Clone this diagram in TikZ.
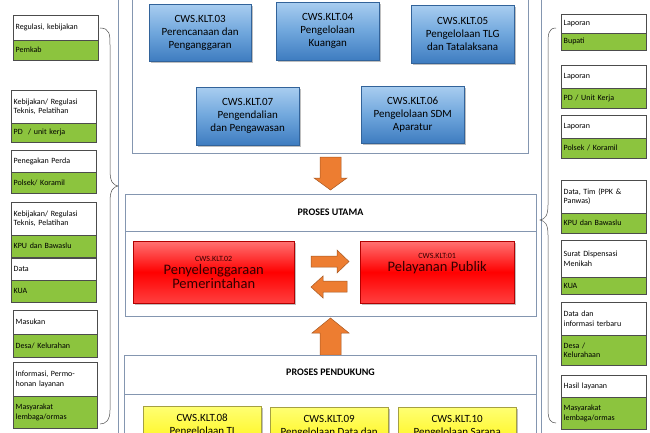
\documentclass[tikz,border=0pt]{standalone}
\usepackage{fontspec}
\setmainfont{Carlito}
\usetikzlibrary{shadows}
\definecolor{grn}{HTML}{8CC43E}
\definecolor{frm}{HTML}{8496B0}
\definecolor{org}{HTML}{ED7D31}
\definecolor{bl1}{HTML}{A9CDF0}
\definecolor{bl2}{HTML}{6FA6DC}
\definecolor{bl3}{HTML}{3E7CC0}
\tikzset{
  sidew/.style={draw=black!70,fill=white,anchor=north west,inner sep=2.5pt,align=left,font=\fontsize{8}{9.5}\selectfont},
  sideg/.style={draw=black!70,fill=grn,anchor=north west,inner sep=2.5pt,align=left,font=\fontsize{8}{9.5}\selectfont},
  frame/.style={draw=frm,line width=0.8pt},
  bluebox/.style={draw=bl3!80!black,top color=bl1,bottom color=bl3,middle color=bl2,drop shadow={shadow xshift=1.5pt,shadow yshift=-1.5pt,opacity=0.5},anchor=north west,align=center,font=\fontsize{11}{13}\selectfont,inner sep=0pt},
  redbox/.style={draw=red!70!black,top color=red!55,bottom color=red!75,middle color=red,drop shadow={shadow xshift=1.5pt,shadow yshift=-1.5pt,opacity=0.5},anchor=north west,align=center,inner sep=0pt,text=black!80!red},
  yelbox/.style={draw=yellow!60!black,top color=yellow!55,bottom color=yellow!90!orange,drop shadow={shadow xshift=1.5pt,shadow yshift=-1.5pt,opacity=0.5},anchor=north west,align=center,font=\fontsize{11}{13}\selectfont,inner sep=0pt},
  oarrow/.style={draw=org!70!black,fill=org,line width=0.5pt},
  brace/.style={draw=black!70,line width=0.5pt}
}
\newcommand\sidepair[8]{%
  \node[sidew,minimum width=#2pt,minimum height=#5pt,text width=#2pt-5pt] (#1w) at (#3,#4) {#7};
  \node[sideg,minimum width=#2pt,minimum height=#6pt,text width=#2pt-5pt] (#1g) at (#3,#4+#5) {#8};
}
\begin{document}
\begin{tikzpicture}[x=1pt,y=-1pt]
\useasboundingbox (0,0) rectangle (650,433);
\clip (0,0) rectangle (650,433);
% outer frame lines
\draw[frame] (118,-5) -- (118,440);
\draw[frame] (541,-5) -- (541,440);
% top box
\draw[frame] (132,-5) -- (132,153) -- (528,153) -- (528,-5);
\node[bluebox,minimum width=102pt,minimum height=57pt] (k03) at (149,4) {CWS.KLT.03\\Perencanaan dan\\Penganggaran};
\node[bluebox,minimum width=103pt,minimum height=58pt] (k04) at (276,2) {CWS.KLT.04\\Pengelolaan\\Kuangan};
\node[bluebox,minimum width=103pt,minimum height=58pt] (k05) at (411,5) {CWS.KLT.05\\Pengelolaan TLG\\dan Tatalaksana};
\node[bluebox,minimum width=103pt,minimum height=58pt] (k07) at (196,87) {CWS.KLT.07\\Pengendalian\\dan Pengawasan};
\node[bluebox,minimum width=103pt,minimum height=57pt] (k06) at (361,86) {CWS.KLT.06\\Pengelolaan SDM\\Aparatur};
% down arrow
\draw[oarrow] (320,157) -- (341,157) -- (341,178) -- (347,178) -- (330.5,190) -- (314,178) -- (320,178) -- cycle;
% proses utama
\draw[frame,fill=white] (125,194) rectangle (536,316);
\draw[frame] (125,231) -- (536,231);
\node[font=\bfseries\fontsize{10}{12}\selectfont] (pu) at (330.5,212) {PROSES UTAMA};
\node[redbox,minimum width=161pt,minimum height=62pt] (k02) at (133,241) {\fontsize{8}{9}\selectfont CWS.KLT.02\\[1pt]\fontsize{14.5}{17}\selectfont Penyelenggaraan\\\fontsize{14.5}{17}\selectfont Pemerintahan};
\node[redbox,minimum width=154pt,minimum height=62pt] (k01) at (360,241) {\fontsize{8}{9}\selectfont CWS.KLT:01\\[1pt]\fontsize{14.5}{17}\selectfont Pelayanan Publik\\\fontsize{14.5}{17}\selectfont\strut\phantom{P}};
\draw[oarrow] (311,256) -- (337,256) -- (337,250) -- (349,261.5) -- (337,273) -- (337,267) -- (311,267) -- cycle;
\draw[oarrow] (347,281) -- (323,281) -- (323,276) -- (311,287) -- (323,298) -- (323,292) -- (347,292) -- cycle;
% up arrow
\draw[oarrow] (320,355) -- (341,355) -- (341,333) -- (349,333) -- (330.5,318) -- (312,333) -- (320,333) -- cycle;
% proses pendukung
\draw[frame,fill=white] (124,355) rectangle (536,440);
\draw[frame] (124,394) -- (536,394);
\node[font=\bfseries\fontsize{10}{12}\selectfont] (pp) at (330.5,372) {PROSES PENDUKUNG};
\node[yelbox,minimum width=118pt,minimum height=50pt] (k08) at (143,406) {CWS.KLT.08\\Pengelolaan TI\\\phantom{x}};
\node[yelbox,minimum width=118pt,minimum height=50pt] (k09) at (270,407) {CWS.KLT.09\\Pengelolaan Data dan\\\phantom{x}};
\node[yelbox,minimum width=118pt,minimum height=50pt] (k10) at (398,407) {CWS.KLT.10\\Pengelolaan Sarana\\\phantom{x}};
% left side
\sidepair{l1}{85}{13}{15}{25}{20}{Regulasi, kebijakan}{Pemkab}
\sidepair{l2}{85}{11}{90}{33}{19}{Kebijakan/ Regulasi\\Teknis, Pelatihan}{PD\ \ / unit kerja}
\sidepair{l3}{85}{11}{150}{22}{21}{Penegakan Perda}{Polsek/ Koramil}
\sidepair{l4}{85}{11}{202}{33}{22}{Kebijakan/ Regulasi\\Teknis, Pelatihan}{KPU dan Bawaslu}
\sidepair{l5}{85}{11}{258}{22}{22}{Data}{KUA}
\sidepair{l6}{84}{13}{310}{24}{23}{Masukan}{Desa/ Kelurahan}
\sidepair{l7}{84}{13}{362}{34}{32}{Informasi, Permo-\\honan layanan}{Masyarakat\\lembaga/ormas}
% right side
\sidepair{r1}{85}{561}{14}{19}{17}{Laporan}{Bupati}
\sidepair{r2}{85}{561}{65}{23}{20}{Laporan}{PD / Unit Kerja}
\sidepair{r3}{85}{561}{115}{23}{20}{Laporan}{Polsek / Koramil}
\sidepair{r4}{85}{561}{180}{33}{20}{Data, Tim (PPK \&\\Panwas)}{KPU dan Bawaslu}
\sidepair{r5}{85}{561}{240}{37}{17}{Surat Dispensasi\\Menikah}{KUA}
\sidepair{r6}{85}{561}{302}{33}{30}{Data dan\\informasi terbaru}{Desa /\\Kelurahaan}
\sidepair{r7}{85}{561}{375}{22}{32}{Hasil layanan}{Masyarakat\\lembaga/ormas}
% braces
\draw[brace] (100,28) .. controls (110,28) and (110,35) .. (110,45) -- (110,170) .. controls (110,182) and (113,185) .. (118,186) .. controls (113,187) and (110,190) .. (110,202) -- (110,410) .. controls (110,420) and (106,424) .. (100,424);
\draw[brace] (556,28) .. controls (548,28) and (548,35) .. (548,45) -- (548,205) .. controls (548,216) and (545,219) .. (540,220) .. controls (545,221) and (548,224) .. (548,235) -- (548,410) .. controls (548,420) and (551,423) .. (556,423);
\end{tikzpicture}
\end{document}
